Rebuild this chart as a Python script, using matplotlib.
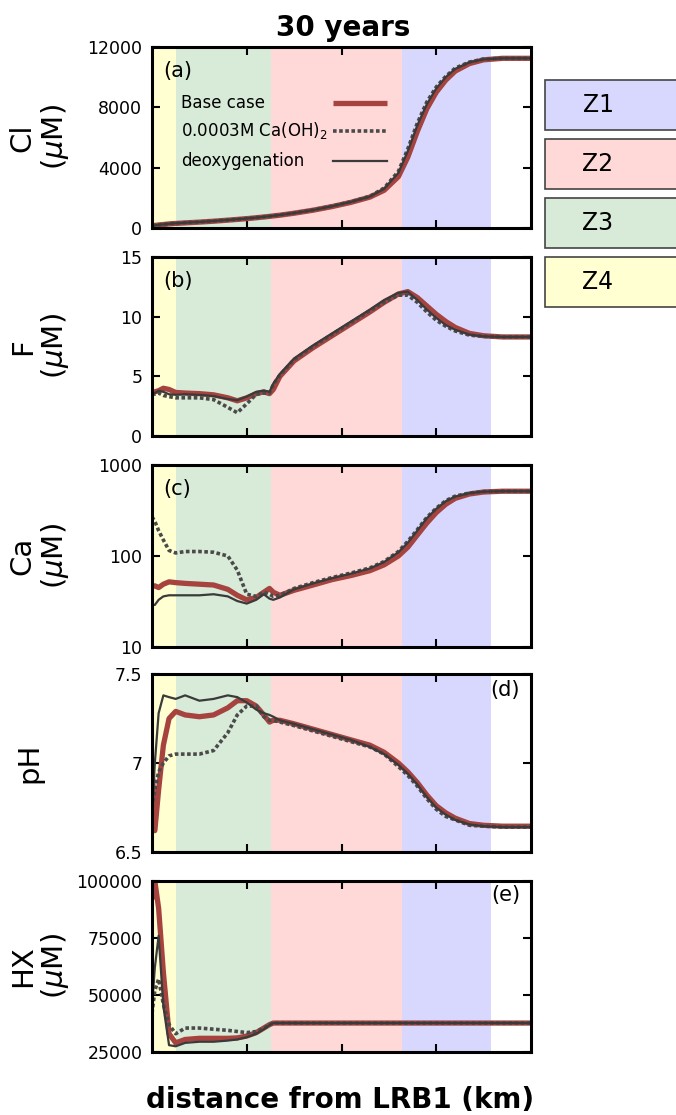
import numpy as np
import matplotlib
matplotlib.use("Agg")
import matplotlib.pyplot as plt
from matplotlib.patches import Rectangle

# distance grid (arbitrary km units, axis 0-4)
x = [0, 0.03, 0.07, 0.12, 0.18, 0.25, 0.35, 0.5, 0.65, 0.8, 0.9, 1.0, 1.1, 1.18, 1.24, 1.28, 1.35,
     1.5, 1.7, 1.9, 2.1, 2.3, 2.45, 2.6, 2.7, 2.8, 2.9, 3.0, 3.1, 3.2, 3.35, 3.5, 3.7, 4.0]

# zone boundaries (Z4, Z3, Z2, Z1)
zone_names = ["Z4", "Z3", "Z2", "Z1"]
zone_edges = [0, 0.253, 1.256, 2.64, 3.58]
zone_colors = ["#ffffd2", "#d8ead8", "#ffd8d8", "#d8d8ff"]

# Cl (uM)
cl_base = [150, 170, 200, 230, 270, 300, 340, 390, 450, 520, 570, 620, 680, 730, 770, 800, 850,
           980, 1180, 1420, 1700, 2050, 2500, 3400, 4700, 6400, 7900, 9000, 9800, 10400, 10900, 11150, 11250, 11250]
cl_caoh = [160, 180, 210, 240, 280, 310, 350, 400, 460, 530, 580, 630, 690, 740, 780, 810, 860,
           1000, 1200, 1450, 1740, 2100, 2650, 3750, 5250, 6950, 8350, 9350, 10050, 10600, 11000, 11200, 11250, 11250]
cl_deox = [160, 180, 210, 240, 280, 310, 350, 400, 460, 530, 580, 630, 690, 740, 780, 810, 860,
           990, 1190, 1440, 1730, 2080, 2600, 3650, 5100, 6800, 8200, 9250, 10000, 10550, 10980, 11180, 11250, 11250]

# F (uM)
f_base = [3.6, 3.7, 3.8, 4.0, 3.9, 3.65, 3.6, 3.55, 3.45, 3.2, 2.95, 3.2, 3.55, 3.7, 3.55, 3.9, 5.0,
          6.3, 7.4, 8.4, 9.4, 10.4, 11.2, 11.9, 12.1, 11.6, 10.9, 10.2, 9.6, 9.1, 8.6, 8.4, 8.3, 8.3]
f_caoh = [3.6, 3.5, 3.6, 3.4, 3.3, 3.2, 3.2, 3.2, 3.05, 2.4, 1.95, 2.7, 3.5, 3.6, 3.6, 4.3, 5.1,
          6.4, 7.5, 8.5, 9.5, 10.5, 11.2, 11.8, 11.8, 11.2, 10.4, 9.7, 9.2, 8.8, 8.45, 8.35, 8.3, 8.3]
f_deox = [3.6, 3.6, 3.8, 3.7, 3.5, 3.45, 3.5, 3.45, 3.35, 3.1, 3.0, 3.3, 3.7, 3.8, 3.7, 4.4, 5.2,
          6.5, 7.6, 8.6, 9.6, 10.6, 11.4, 12.0, 12.1, 11.4, 10.6, 9.9, 9.3, 8.9, 8.5, 8.35, 8.3, 8.3]

# Ca (uM)
ca_base = [46, 47, 45, 49, 52, 51, 50, 49, 48, 43, 37, 33, 35, 40, 44, 40, 37,
           42, 48, 55, 61, 69, 80, 100, 125, 170, 230, 300, 370, 430, 480, 505, 515, 515]
ca_caoh = [270, 240, 190, 150, 115, 108, 112, 112, 110, 100, 70, 38, 36, 40, 38, 36, 37,
           44, 51, 58, 65, 74, 87, 112, 145, 195, 265, 335, 405, 455, 492, 510, 515, 515]
ca_deox = [29, 29, 33, 36, 37, 37, 37, 37, 38, 36, 32, 30, 33, 38, 34, 33, 35,
           43, 50, 57, 64, 73, 86, 110, 140, 190, 260, 330, 400, 450, 490, 510, 515, 515]

# pH
ph_base = [7.0, 6.62, 6.85, 7.1, 7.25, 7.29, 7.27, 7.26, 7.27, 7.31, 7.35, 7.35, 7.32, 7.27, 7.23, 7.24, 7.24,
           7.22, 7.19, 7.16, 7.13, 7.10, 7.06, 7.0, 6.95, 6.89, 6.82, 6.76, 6.72, 6.69, 6.66, 6.65, 6.645, 6.645]
ph_caoh = [6.75, 6.85, 6.95, 7.0, 7.04, 7.05, 7.05, 7.05, 7.07, 7.17, 7.27, 7.32, 7.32, 7.26, 7.24, 7.24, 7.23,
           7.21, 7.18, 7.15, 7.12, 7.09, 7.05, 6.98, 6.93, 6.87, 6.80, 6.74, 6.70, 6.68, 6.65, 6.645, 6.64, 6.64]
ph_deox = [6.72, 7.0, 7.28, 7.38, 7.37, 7.36, 7.38, 7.35, 7.36, 7.38, 7.37, 7.34, 7.3, 7.28, 7.27, 7.26, 7.24,
           7.22, 7.19, 7.16, 7.13, 7.09, 7.05, 6.99, 6.94, 6.88, 6.81, 6.75, 6.71, 6.68, 6.655, 6.645, 6.64, 6.64]

# HX (uM)
hx_base = [92000, 100000, 88000, 60000, 33000, 29000, 30500, 31000, 31000, 31000, 31200, 32000, 33500, 35500, 37000, 37700, 37700,
           37700, 37700, 37700, 37700, 37700, 37700, 37700, 37700, 37700, 37700, 37700, 37700, 37700, 37700, 37700, 37700, 37700]
hx_caoh = [42000, 52000, 57000, 46000, 37000, 33000, 35500, 35500, 35000, 34500, 34000, 33500, 34000, 35500, 37000, 37700, 37700,
           37700, 37700, 37700, 37700, 37700, 37700, 37700, 37700, 37700, 37700, 37700, 37700, 37700, 37700, 37700, 37700, 37700]
hx_deox = [45000, 62000, 76000, 45000, 28000, 27500, 29000, 29500, 29500, 30000, 30500, 31500, 33000, 35000, 36800, 37700, 37700,
           37700, 37700, 37700, 37700, 37700, 37700, 37700, 37700, 37700, 37700, 37700, 37700, 37700, 37700, 37700, 37700, 37700]

series_labels = ["Base case", "0.0003M Ca(OH)$_2$", "deoxygenation"]
base_style = dict(color="#a6433f", lw=3.8, solid_capstyle="butt")
caoh_style = dict(color="#4a4a4a", lw=2.6, ls=(0, (1, 0.7)))
deox_style = dict(color="#3a3a3a", lw=1.6)

panels = [
    dict(base=cl_base, caoh=cl_caoh, deox=cl_deox, ylabel="Cl\n($\\mu$M)", tag="(a)",
         tagpos=(0.03, 0.867, "left"), ylim=(0, 12000), yticks=[0, 4000, 8000, 12000],
         yticklabels=["0", "4000", "8000", "12000"], log=False),
    dict(base=f_base, caoh=f_caoh, deox=f_deox, ylabel="F\n($\\mu$M)", tag="(b)",
         tagpos=(0.03, 0.867, "left"), ylim=(0, 15), yticks=[0, 5, 10, 15],
         yticklabels=["0", "5", "10", "15"], log=False),
    dict(base=ca_base, caoh=ca_caoh, deox=ca_deox, ylabel="Ca\n($\\mu$M)", tag="(c)",
         tagpos=(0.03, 0.867, "left"), ylim=(10, 1000), yticks=[10, 100, 1000],
         yticklabels=["10", "100", "1000"], log=True),
    dict(base=ph_base, caoh=ph_caoh, deox=ph_deox, ylabel="pH", tag="(d)",
         tagpos=(0.971, 0.91, "right"), ylim=(6.5, 7.5), yticks=[6.5, 7, 7.5],
         yticklabels=["6.5", "7", "7.5"], log=False),
    dict(base=hx_base, caoh=hx_caoh, deox=hx_deox, ylabel="HX\n($\\mu$M)", tag="(e)",
         tagpos=(0.971, 0.918, "right"), ylim=(25000, 100000), yticks=[25000, 50000, 75000, 100000],
         yticklabels=["25000", "50000", "75000", "100000"], log=False),
]

# axes boxes in pixels: (top, bottom)
W, H = 676, 1115
boxes = [(47, 228), (257, 436), (465, 647), (674, 852), (881, 1052)]
left_px, right_px = 152, 531

fig = plt.figure(figsize=(W / 100, H / 100), dpi=100)

for i, (p, (top, bot)) in enumerate(zip(panels, boxes)):
    ax = fig.add_axes([left_px / W, 1 - bot / H, (right_px - left_px) / W, (bot - top) / H])
    for j in range(4):
        ax.axvspan(zone_edges[j], zone_edges[j + 1], color=zone_colors[j], lw=0, zorder=0)
    ax.plot(x, p["base"], zorder=2, **base_style)
    ax.plot(x, p["caoh"], zorder=3, **caoh_style)
    ax.plot(x, p["deox"], zorder=4, **deox_style)
    if p["log"]:
        ax.set_yscale("log")
        ax.yaxis.set_minor_locator(matplotlib.ticker.NullLocator())
    ax.set_ylim(*p["ylim"])
    ax.set_yticks(p["yticks"])
    ax.set_yticklabels(p["yticklabels"])
    ax.set_xlim(0, 4)
    ax.set_xticks([1, 2, 3])
    ax.set_xticklabels([])
    ax.tick_params(direction="in", length=6, width=1.5, top=True, right=True, labelsize=12.5, pad=7)
    for s in ax.spines.values():
        s.set_linewidth(2.2)
        s.set_zorder(6)
    tx, ty, tha = p["tagpos"]
    ax.text(tx, ty, p["tag"], transform=ax.transAxes, ha=tha, va="center", fontsize=15)
    ylab_x = 29 if p["ylabel"] == "pH" else 40
    fig.text(ylab_x / W, 1 - (top + bot) / 2 / H, p["ylabel"], rotation=90, ha="center", va="center",
             fontsize=21, linespacing=1.1)

    if i == 0:
        # legend: labels on the left, line samples on the right
        rows = [0.69, 0.536, 0.37]
        styles = [base_style, caoh_style, deox_style]
        for lab, ry, st in zip(series_labels, rows, styles):
            ax.text(0.0765, ry, lab, transform=ax.transAxes, ha="left", va="center", fontsize=12, zorder=5)
            ax.plot([0.478, 0.62], [ry, ry], transform=ax.transAxes, zorder=5, **st)

fig.text(343 / W, 1 - 28 / H, "30 years", ha="center", va="center", fontsize=20, fontweight="bold")
fig.text(340 / W, 1 - 1100 / H, "distance from LRB1 (km)", ha="center", va="center", fontsize=20,
         fontweight="bold")

# zone key boxes on the right
key_tops = [80, 139, 198, 257]
key_order = ["Z1", "Z2", "Z3", "Z4"]
for name, ktop in zip(key_order, key_tops):
    c = zone_colors[zone_names.index(name)]
    rect = Rectangle((545 / W, 1 - (ktop + 50) / H), 0.25, 50 / H, transform=fig.transFigure,
                     facecolor=c, edgecolor="#444444", lw=1.2)
    fig.patches.append(rect)
    fig.text(598 / W, 1 - (ktop + 25) / H, name, ha="center", va="center", fontsize=17)

fig.savefig("out.png", dpi=100)
